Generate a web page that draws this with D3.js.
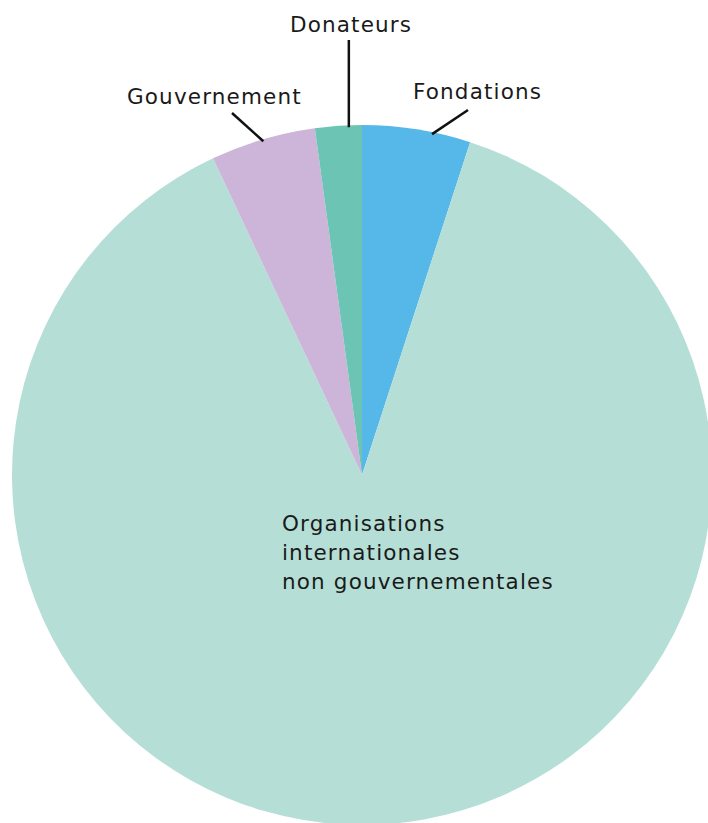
<!DOCTYPE html>
<html>
<head>
<meta charset="utf-8">
<script src="https://cdn.jsdelivr.net/npm/d3@7"></script>
<style>
  body { margin: 0; background: #fff; }
  svg text { font-family: "DejaVu Sans", sans-serif; fill: #1a1a1a; letter-spacing: 1.15px; }
</style>
</head>
<body>
<script>
// slice data, clockwise from 12 o'clock
var categories = ["Fondations", "Organisations internationales non gouvernementales", "Gouvernement", "Donateurs"];
var values = [5, 88, 4.85, 2.15];
var colors = ["#55b8e8", "#b5dfd6", "#cdb5d9", "#6cc5b4"];

var width = 708, height = 823;
var cx = 362, cy = 475, radius = 350;
var fontSize = "21.5px";

var svg = d3.select("body").append("svg")
  .attr("width", width)
  .attr("height", height);

var g = svg.append("g").attr("transform", "translate(" + cx + "," + cy + ")");

var pie = d3.pie().sort(null).value(function(d){ return d; });
var arcs = pie(values);
var arc = d3.arc().innerRadius(0).outerRadius(radius);

g.selectAll("path.slice").data(arcs).enter().append("path")
  .attr("class", "slice")
  .attr("d", arc)
  .attr("fill", function(d, i){ return colors[i]; });

// outside labels with leader lines (angle offset / line end / text position relative to centre)
var outside = [
  {i: 0, angle: 0.145, end: [106, -365], tx: 51, ty: -376},
  {i: 2, angle: 0, end: [-130, -362], tx: -235, ty: -371},
  {i: 3, angle: 0.22, end: null, tx: -72, ty: -443}
];

outside.forEach(function(o){
  var a = arcs[o.i];
  var ang = a.startAngle + (a.endAngle - a.startAngle) * (0.5 + o.angle);
  var x0 = Math.sin(ang) * (radius - 2), y0 = -Math.cos(ang) * (radius - 2);
  var end = o.end || [x0, -435];
  g.append("line")
    .attr("x1", x0).attr("y1", y0)
    .attr("x2", end[0]).attr("y2", end[1])
    .attr("stroke", "#111").attr("stroke-width", 2.5);
  g.append("text")
    .attr("x", o.tx).attr("y", o.ty)
    .style("font-size", fontSize)
    .text(categories[o.i]);
});

// inside label
var inner = g.append("text")
  .attr("x", -80).attr("y", 56)
  .style("font-size", fontSize);
["Organisations", "internationales", "non gouvernementales"].forEach(function(t, k){
  inner.append("tspan").attr("x", -80).attr("dy", k === 0 ? 0 : 29).text(t);
});
</script>
</body>
</html>
